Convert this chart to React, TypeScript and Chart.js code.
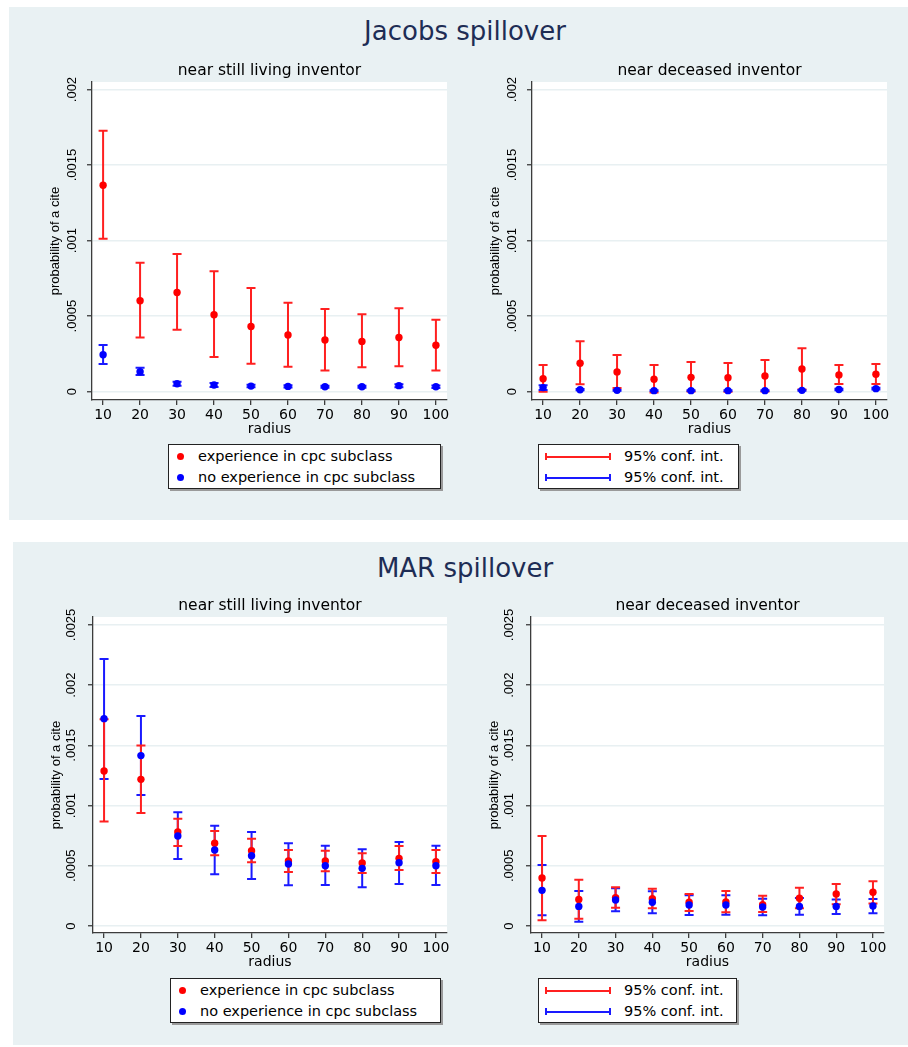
import React, { useEffect, useRef } from 'react';
import { Chart, registerables } from 'chart.js';

Chart.register(...registerables);

// ---------- data ----------
const RADIUS = [10, 20, 30, 40, 50, 60, 70, 80, 90, 100];
const X_TICK_LABELS = ['10', '20', '30', '40', '50', '60', '70', '80', '90', '100'];

const Y_TICKS_TOP = [0, 0.0005, 0.001, 0.0015, 0.002];
const Y_LABELS_TOP = ['0', '.0005', '.001', '.0015', '.002'];
const Y_TICKS_BOTTOM = [0, 0.0005, 0.001, 0.0015, 0.002, 0.0025];
const Y_LABELS_BOTTOM = ['0', '.0005', '.001', '.0015', '.002', '.0025'];

// Jacobs spillover, near still living inventor
const jlExpMean = [0.001367, 0.000602, 0.000657, 0.000509, 0.000432, 0.000375, 0.000342, 0.000333, 0.000359, 0.000307];
const jlExpLo = [0.001012, 0.000359, 0.00041, 0.000229, 0.000185, 0.000165, 0.000141, 0.000161, 0.000168, 0.000141];
const jlExpHi = [0.001727, 0.000853, 0.000911, 0.000798, 0.000686, 0.000589, 0.000547, 0.000512, 0.000553, 0.000476];
const jlNoMean = [0.000245, 0.000132, 0.000053, 0.000044, 0.000037, 0.000035, 0.000033, 0.000033, 0.00004, 0.000033];
const jlNoLo = [0.000183, 0.00011, 0.00004, 0.000031, 0.000029, 0.000027, 0.000026, 0.000026, 0.00003, 0.000025];
const jlNoHi = [0.000309, 0.000159, 0.000066, 0.000057, 0.000046, 0.000043, 0.00004, 0.00004, 0.00005, 0.000041];

// Jacobs spillover, near deceased inventor
const jdExpMean = [0.000086, 0.000188, 0.000131, 0.000082, 0.000095, 0.000093, 0.000104, 0.00015, 0.000111, 0.000115];
const jdExpLo = [0.0, 0.000049, 0.000024, -0.000006, 0.000001, 0.0, 0.000001, 0.000015, 0.000051, 0.000051];
const jdExpHi = [0.000177, 0.000334, 0.000243, 0.000177, 0.000197, 0.00019, 0.00021, 0.000288, 0.000177, 0.000184];
const jdNoMean = [0.000027, 0.000013, 0.000009, 0.000007, 0.000007, 0.000007, 0.000007, 0.000009, 0.000015, 0.00002];
const jdNoLo = [0.000011, 0.000009, 0.000006, 0.000004, 0.000004, 0.000004, 0.000004, 0.000006, 0.00001, 0.000014];
const jdNoHi = [0.000042, 0.000018, 0.000012, 0.00001, 0.00001, 0.00001, 0.00001, 0.000012, 0.00002, 0.000026];

// MAR spillover, near still living inventor
const mlExpMean = [0.001287, 0.001218, 0.000781, 0.000687, 0.000626, 0.00054, 0.00054, 0.000523, 0.000562, 0.000534];
const mlExpLo = [0.000867, 0.000939, 0.000664, 0.000587, 0.000529, 0.000449, 0.000454, 0.00044, 0.000465, 0.00044];
const mlExpHi = [0.001717, 0.001498, 0.000891, 0.000789, 0.000725, 0.000631, 0.000626, 0.000604, 0.000664, 0.000631];
const mlNoMean = [0.001722, 0.001415, 0.000748, 0.000631, 0.000584, 0.000515, 0.000501, 0.000479, 0.000526, 0.000501];
const mlNoLo = [0.001221, 0.001088, 0.000556, 0.000429, 0.00039, 0.000338, 0.000341, 0.000321, 0.000349, 0.000341];
const mlNoHi = [0.002218, 0.001744, 0.000944, 0.000833, 0.000781, 0.000687, 0.000667, 0.000637, 0.000698, 0.000667];

// MAR spillover, near deceased inventor
const mdExpMean = [0.000399, 0.000221, 0.000235, 0.000227, 0.000197, 0.000199, 0.000177, 0.00023, 0.000266, 0.00028];
const mdExpLo = [0.000047, 0.000061, 0.000152, 0.000147, 0.000125, 0.000114, 0.000116, 0.000147, 0.00018, 0.000188];
const mdExpHi = [0.000748, 0.000385, 0.000321, 0.00031, 0.000266, 0.000291, 0.000252, 0.000318, 0.000349, 0.000371];
const mdNoMean = [0.000296, 0.000163, 0.000216, 0.000197, 0.000174, 0.000174, 0.000158, 0.000163, 0.000163, 0.000166];
const mdNoLo = [0.000089, 0.000036, 0.000122, 0.000105, 0.000091, 0.000094, 0.000089, 0.000094, 0.0001, 0.000105];
const mdNoHi = [0.000507, 0.000291, 0.000313, 0.000288, 0.000255, 0.000255, 0.000227, 0.000233, 0.000221, 0.000224];

// ---------- styles ----------
const PANEL_BG = '#e9f1f3';
const GRID = '#e8f0f2';
const AXIS = '#3c3c3c';
const RED = '#ff0000';
const RED_BAR = '#ff2020';
const BLUE = '#0000ff';
const BLUE_BAR = '#1a1aff';
const TITLE_NAVY = '#1e2d55';
const H_FONT = 'DejaVu Sans';
const V_FONT = 'Liberation Sans';

const Y_W = 50;
const X_H = 38;
const PAD_R = 10;
const TITLE_BLOCK = 23;

type Series = { mean: number[]; lo: number[]; hi: number[]; color: string; barColor: string };

const plotBgPlugin = {
  id: 'plotBg',
  beforeDraw(chart: any) {
    const { ctx, chartArea: a } = chart;
    ctx.save();
    ctx.fillStyle = '#ffffff';
    ctx.fillRect(a.left, a.top, a.right - a.left, a.bottom - a.top);
    ctx.restore();
  },
};

const errorBarPlugin = {
  id: 'errorBars',
  beforeDatasetsDraw(chart: any) {
    const ctx = chart.ctx;
    const xs = chart.scales.x;
    const ys = chart.scales.y;
    chart.data.datasets.forEach((ds: any) => {
      if (!ds.errLo) return;
      ctx.save();
      ctx.strokeStyle = ds.errColor;
      ctx.lineWidth = 2;
      ds.data.forEach((pt: any, i: number) => {
        const x = xs.getPixelForValue(pt.x);
        const y1 = ys.getPixelForValue(ds.errLo[i]);
        const y2 = ys.getPixelForValue(ds.errHi[i]);
        ctx.beginPath();
        ctx.moveTo(x, y1);
        ctx.lineTo(x, y2);
        ctx.moveTo(x - 4.5, y1);
        ctx.lineTo(x + 4.5, y1);
        ctx.moveTo(x - 4.5, y2);
        ctx.lineTo(x + 4.5, y2);
        ctx.stroke();
      });
      ctx.restore();
    });
  },
};

function Subplot(props: {
  area: { L: number; T: number; R: number; B: number };
  title: string;
  yMin: number;
  yMax: number;
  yTicks: number[];
  yLabels: string[];
  yPad: number;
  series: Series[];
}) {
  const ref = useRef<HTMLCanvasElement>(null);
  const { area } = props;
  const left = area.L - Y_W;
  const top = area.T - TITLE_BLOCK;
  const width = area.R + PAD_R - left;
  const height = area.B + X_H - top;

  useEffect(() => {
    if (!ref.current) return;
    const chart = new Chart(ref.current, {
      type: 'scatter',
      data: {
        datasets: props.series.map((s) => ({
          data: RADIUS.map((x, i) => ({ x, y: s.mean[i] })),
          errLo: s.lo,
          errHi: s.hi,
          errColor: s.barColor,
          backgroundColor: s.color,
          borderWidth: 0,
          pointRadius: 3.7,
          pointHoverRadius: 3.7,
        })) as any,
      },
      options: {
        animation: false,
        responsive: false,
        devicePixelRatio: 1,
        events: [],
        layout: { padding: { left: 0, right: PAD_R, top: 0, bottom: 0 } },
        plugins: {
          legend: { display: false },
          tooltip: { enabled: false },
          title: {
            display: true,
            text: props.title,
            fullSize: false,
            color: '#000',
            font: { family: H_FONT, size: 15.5, weight: 'normal' },
            padding: { top: 3, bottom: 1.4 },
          },
        },
        scales: {
          x: {
            type: 'linear',
            min: 7,
            max: 103,
            afterBuildTicks: (s: any) => {
              s.ticks = RADIUS.map((v) => ({ value: v }));
            },
            afterFit: (s: any) => {
              s.height = X_H;
            },
            ticks: {
              autoSkip: false,
              maxRotation: 0,
              minRotation: 0,
              padding: 1.5,
              color: '#000',
              font: { family: H_FONT, size: 14 },
              callback: (_v: any, i: number) => X_TICK_LABELS[i],
            },
            grid: { drawOnChartArea: false, drawTicks: true, tickLength: 5, color: AXIS, lineWidth: 1.3 },
            border: { display: true, color: AXIS, width: 1.3 },
            title: {
              display: true,
              text: 'radius',
              color: '#000',
              font: { family: H_FONT, size: 14 },
              padding: { top: 0, bottom: 0 },
            },
          },
          y: {
            type: 'linear',
            min: props.yMin,
            max: props.yMax,
            afterBuildTicks: (s: any) => {
              s.ticks = props.yTicks.map((v) => ({ value: v }));
            },
            afterFit: (s: any) => {
              s.width = Y_W;
            },
            ticks: {
              autoSkip: false,
              minRotation: 90,
              maxRotation: 90,
              crossAlign: 'center',
              padding: props.yPad,
              color: '#000',
              font: { family: V_FONT, size: 13 },
              callback: (_v: any, i: number) => props.yLabels[i],
            },
            grid: {
              display: true,
              drawOnChartArea: true,
              color: GRID,
              lineWidth: 1.5,
              drawTicks: true,
              tickLength: 5,
              tickColor: AXIS,
              tickWidth: 1.3,
            },
            border: { display: true, color: AXIS, width: 1.3 },
            title: {
              display: true,
              text: 'probability of a cite',
              color: '#000',
              font: { family: V_FONT, size: 13 },
              padding: { top: 5.5, bottom: 0 },
            },
          },
        },
      } as any,
      plugins: [plotBgPlugin, errorBarPlugin],
    });
    return () => chart.destroy();
  }, []);

  return (
    <canvas
      ref={ref}
      width={width}
      height={height}
      style={{ position: 'absolute', left, top, width, height }}
    />
  );
}

function LegendDots(props: { left: number; top: number; width: number }) {
  const items = [
    { color: RED, text: 'experience in cpc subclass', cy: 12 },
    { color: BLUE, text: 'no experience in cpc subclass', cy: 33 },
  ];
  return (
    <div
      style={{
        position: 'absolute',
        left: props.left,
        top: props.top,
        width: props.width,
        height: 45,
        boxSizing: 'border-box',
        background: '#fff',
        border: '1px solid #222',
        boxShadow: '2px 2px 0 #9a9a9a',
      }}
    >
      {items.map((it) => (
        <React.Fragment key={it.text}>
          <div
            style={{
              position: 'absolute',
              left: 8,
              top: it.cy - 4,
              width: 7,
              height: 7,
              borderRadius: '50%',
              background: it.color,
            }}
          />
          <div
            style={{
              position: 'absolute',
              left: 29,
              top: it.cy - 11,
              height: 20,
              lineHeight: '20px',
              fontFamily: H_FONT,
              fontSize: 14.5,
              color: '#000',
              whiteSpace: 'nowrap',
            }}
          >
            {it.text}
          </div>
        </React.Fragment>
      ))}
    </div>
  );
}

function LegendBars(props: { left: number; top: number; width: number }) {
  const items = [
    { color: RED_BAR, cy: 12, key: 'r' },
    { color: BLUE_BAR, cy: 33, key: 'b' },
  ];
  const x1 = 6;
  const x2 = 72;
  return (
    <div
      style={{
        position: 'absolute',
        left: props.left,
        top: props.top,
        width: props.width,
        height: 45,
        boxSizing: 'border-box',
        background: '#fff',
        border: '1px solid #222',
        boxShadow: '2px 2px 0 #9a9a9a',
      }}
    >
      {items.map((it) => (
        <React.Fragment key={it.key}>
          <div style={{ position: 'absolute', left: x1, top: it.cy - 1, width: x2 - x1, height: 1.6, background: it.color }} />
          <div style={{ position: 'absolute', left: x1, top: it.cy - 4, width: 1.6, height: 7, background: it.color }} />
          <div style={{ position: 'absolute', left: x2 - 1.6, top: it.cy - 4, width: 1.6, height: 7, background: it.color }} />
          <div
            style={{
              position: 'absolute',
              left: 85,
              top: it.cy - 11,
              height: 20,
              lineHeight: '20px',
              fontFamily: H_FONT,
              fontSize: 14.5,
              color: '#000',
              whiteSpace: 'nowrap',
            }}
          >
            95% conf. int.
          </div>
        </React.Fragment>
      ))}
    </div>
  );
}

function MainTitle(props: { text: string; top: number }) {
  return (
    <div
      style={{
        position: 'absolute',
        left: 265,
        width: 400,
        top: props.top,
        height: 30,
        lineHeight: '30px',
        textAlign: 'center',
        fontFamily: H_FONT,
        fontSize: 26,
        color: TITLE_NAVY,
        whiteSpace: 'nowrap',
      }}
    >
      {props.text}
    </div>
  );
}

export default function App() {
  const TOP_YMIN = -0.000055;
  const TOP_YMAX = 0.00205;
  const BOT_YMIN = -0.000058;
  const BOT_YMAX = 0.002566;
  return (
    <div style={{ position: 'absolute', left: 0, top: 0, width: 908, height: 1047, background: '#fff', overflow: 'hidden' }}>
      <div style={{ position: 'absolute', left: 9, top: 7, width: 899, height: 513, background: PANEL_BG }} />
      <div style={{ position: 'absolute', left: 13, top: 542, width: 895, height: 503, background: PANEL_BG }} />

      <MainTitle text="Jacobs spillover" top={16} />
      <MainTitle text="MAR spillover" top={553} />

      <Subplot
        area={{ L: 92, T: 82, R: 447, B: 400 }}
        title="near still living inventor"
        yMin={TOP_YMIN}
        yMax={TOP_YMAX}
        yTicks={Y_TICKS_TOP}
        yLabels={Y_LABELS_TOP}
        yPad={-1.3}
        series={[
          { mean: jlExpMean, lo: jlExpLo, hi: jlExpHi, color: RED, barColor: RED_BAR },
          { mean: jlNoMean, lo: jlNoLo, hi: jlNoHi, color: BLUE, barColor: BLUE_BAR },
        ]}
      />
      <Subplot
        area={{ L: 532, T: 82, R: 887, B: 400 }}
        title="near deceased inventor"
        yMin={TOP_YMIN}
        yMax={TOP_YMAX}
        yTicks={Y_TICKS_TOP}
        yLabels={Y_LABELS_TOP}
        yPad={-1.3}
        series={[
          { mean: jdExpMean, lo: jdExpLo, hi: jdExpHi, color: RED, barColor: RED_BAR },
          { mean: jdNoMean, lo: jdNoLo, hi: jdNoHi, color: BLUE, barColor: BLUE_BAR },
        ]}
      />
      <Subplot
        area={{ L: 93, T: 617, R: 447, B: 933 }}
        title="near still living inventor"
        yMin={BOT_YMIN}
        yMax={BOT_YMAX}
        yTicks={Y_TICKS_BOTTOM}
        yLabels={Y_LABELS_BOTTOM}
        yPad={0.5}
        series={[
          { mean: mlNoMean, lo: mlNoLo, hi: mlNoHi, color: BLUE, barColor: BLUE_BAR },
          { mean: mlExpMean, lo: mlExpLo, hi: mlExpHi, color: RED, barColor: RED_BAR },
        ]}
      />
      <Subplot
        area={{ L: 531, T: 617, R: 884, B: 933 }}
        title="near deceased inventor"
        yMin={BOT_YMIN}
        yMax={BOT_YMAX}
        yTicks={Y_TICKS_BOTTOM}
        yLabels={Y_LABELS_BOTTOM}
        yPad={0.5}
        series={[
          { mean: mdNoMean, lo: mdNoLo, hi: mdNoHi, color: BLUE, barColor: BLUE_BAR },
          { mean: mdExpMean, lo: mdExpLo, hi: mdExpHi, color: RED, barColor: RED_BAR },
        ]}
      />

      <LegendDots left={168} top={444} width={273} />
      <LegendBars left={538} top={444} width={201} />
      <LegendDots left={170} top={978} width={271} />
      <LegendBars left={538} top={978} width={199} />
    </div>
  );
}
